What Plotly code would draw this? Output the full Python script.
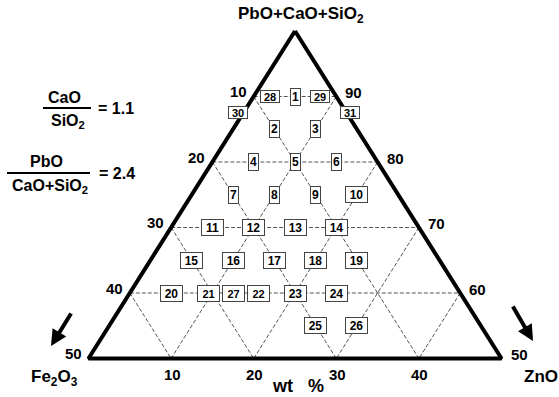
import plotly.graph_objects as go

# Sample compositions in wt %; PbO+CaO+SiO2 makes up the balance to 100
sample_no = list(range(1, 32))
fe2o3_wt = [5, 10, 5, 15, 10, 5, 20, 15, 10, 5,
            25, 20, 15, 10, 30, 25, 20, 15, 10, 35,
            30, 25, 20, 15, 20, 15, 27.5, 8, 2, 12.5, 0]
zno_wt = [5, 5, 10, 5, 10, 15, 5, 10, 15, 20,
          5, 10, 15, 20, 5, 10, 15, 20, 25, 5,
          10, 15, 20, 25, 25, 30, 12.5, 2, 8, 0, 12.5]

# Edge tick labels and dashed guide levels
fe2o3_ticks = [10, 20, 30, 40, 50]
pbo_sum_ticks = [90, 80, 70, 60, 50]
zno_ticks = [10, 20, 30, 40]
guide_levels = [10, 20, 30, 40]
pbo_guide_levels = [90, 80, 70, 60]

W, H = 559, 397
FONT = "Liberation Sans, Arial, sans-serif"


def tern(fe, zn):
    """(Fe2O3, ZnO) -> plane coordinates: x = ZnO - Fe2O3, y = PbO+CaO+SiO2."""
    return zn - fe, 100 - fe - zn


def px(x):
    return x / W


def py(y):
    return 1 - y / H


fig = go.Figure()

# dashed guide lines
gx, gy = [], []
for g in guide_levels:
    for a, b in [((g, 0), (g, 50 - g)), ((0, g), (50 - g, g))]:
        x0, y0 = tern(*a)
        x1, y1 = tern(*b)
        gx += [x0, x1, None]
        gy += [y0, y1, None]
for s in pbo_guide_levels:
    x0, y0 = tern(100 - s, 0)
    x1, y1 = tern(0, 100 - s)
    gx += [x0, x1, None]
    gy += [y0, y1, None]
fig.add_trace(go.Scatter(x=gx, y=gy, mode="lines", hoverinfo="skip",
                         line=dict(color="#555555", width=1, dash="4px,2px")))

# outer triangle (PbO+CaO+SiO2 from 100 down to 50)
corners = [tern(0, 0), tern(50, 0), tern(0, 50), tern(0, 0)]
fig.add_trace(go.Scatter(x=[c[0] for c in corners], y=[c[1] for c in corners],
                         mode="lines", hoverinfo="skip",
                         line=dict(color="black", width=4)))

# sample positions
sx = [tern(f, z)[0] for f, z in zip(fe2o3_wt, zno_wt)]
sy = [tern(f, z)[1] for f, z in zip(fe2o3_wt, zno_wt)]
fig.add_trace(go.Scatter(x=sx, y=sy, mode="markers", hoverinfo="text",
                         text=[str(n) for n in sample_no],
                         marker=dict(size=1, color="rgba(0,0,0,0)")))

annotations = []

# numbered boxes
nudge = {21: -4, 22: 5, 30: -5, 31: 3}
compact = {28, 29, 30, 31}
small_font = {21, 22, 27, 28, 29, 30, 31}
for n, x, y in zip(sample_no, sx, sy):
    if n in compact:
        w, h = 16, 9
    elif n < 10:
        w, h = 7, 14
    else:
        w, h = 19, 13
    annotations.append(dict(
        x=x, y=y, xref="x", yref="y", text=str(n), showarrow=False,
        xshift=nudge.get(n, 0), width=w, height=h,
        font=dict(family=FONT, size=11 if n in small_font else 12,
                  color="black", weight="bold"),
        bgcolor="white", bordercolor="#444444", borderwidth=1, borderpad=1,
        align="center", valign="middle"))

tick_font = dict(family=FONT, size=15, color="black", weight="bold")
for t in fe2o3_ticks:
    x, y = tern(t, 0)
    annotations.append(dict(x=x, y=y, xref="x", yref="y", text=str(t),
                            showarrow=False, xanchor="right", yanchor="middle",
                            xshift=-5, yshift=5, font=tick_font))
for t in pbo_sum_ticks:
    x, y = tern(0, 100 - t)
    annotations.append(dict(x=x, y=y, xref="x", yref="y", text=str(t),
                            showarrow=False, xanchor="left", yanchor="middle",
                            xshift=7, yshift=4, font=tick_font))
for t in zno_ticks:
    x, y = tern(50 - t, t)
    annotations.append(dict(x=x, y=y, xref="x", yref="y", text=str(t),
                            showarrow=False, xanchor="center", yanchor="middle",
                            xshift=1, yshift=-16, font=tick_font))

title_font = dict(family=FONT, size=17, color="black", weight="bold")
for text, x, y, size in [("PbO+CaO+SiO<sub>2</sub>", 301, 15, 17),
                         ("Fe<sub>2</sub>O<sub>3</sub>", 54, 378, 17),
                         ("ZnO", 541, 376, 17),
                         ("wt&nbsp;&nbsp; %", 298, 386, 18)]:
    annotations.append(dict(x=px(x), y=py(y), xref="paper", yref="paper",
                            text=text, showarrow=False, xanchor="center",
                            yanchor="middle", font=dict(title_font, size=size)))

# composition ratios written as fractions
frac_font = dict(family=FONT, size=16, color="black", weight="bold")
for text, x, y, anchor in [("CaO", 64, 97, "center"),
                           ("SiO<sub>2</sub>", 68, 121, "center"),
                           ("= 1.1", 96, 109, "left"),
                           ("PbO", 46, 161, "center"),
                           ("CaO+SiO<sub>2</sub>", 50, 186, "center"),
                           ("= 2.4", 97, 174, "left")]:
    annotations.append(dict(x=px(x), y=py(y), xref="paper", yref="paper",
                            text=text, showarrow=False, xanchor=anchor,
                            yanchor="middle", font=frac_font))

# direction arrows toward the Fe2O3 and ZnO corners
for tip, tail in [((51, 346), (72, 312)), ((533, 341), (512, 305))]:
    annotations.append(dict(x=px(tip[0]), y=py(tip[1]), xref="paper", yref="paper",
                            ax=tail[0] - tip[0], ay=tail[1] - tip[1],
                            text="", showarrow=True, arrowhead=2,
                            arrowsize=0.8, arrowwidth=4, arrowcolor="black"))

shapes = [
    dict(type="line", xref="paper", yref="paper", x0=px(43), x1=px(91),
         y0=py(108), y1=py(108), line=dict(color="black", width=2)),
    dict(type="line", xref="paper", yref="paper", x0=px(7), x1=px(90),
         y0=py(173), y1=py(173), line=dict(color="black", width=2)),
]

x_scale, y_scale = 4.13, 6.55
fig.update_layout(
    width=W, height=H, margin=dict(l=0, r=0, t=0, b=0),
    paper_bgcolor="white", plot_bgcolor="white", showlegend=False,
    xaxis=dict(visible=False, range=[-295 / x_scale, (W - 295) / x_scale], fixedrange=True),
    yaxis=dict(visible=False, range=[50 - (H - 358.5) / y_scale, 50 + 358.5 / y_scale], fixedrange=True),
    annotations=annotations, shapes=shapes,
)

fig.write_html("out.html")
